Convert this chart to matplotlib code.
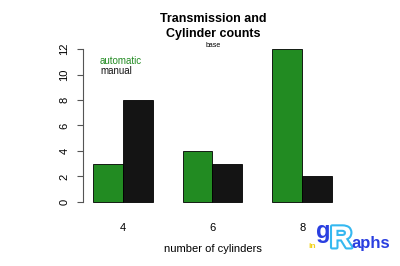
import matplotlib
matplotlib.use("Agg")
import matplotlib.pyplot as plt
import matplotlib.patheffects as pe
import numpy as np

cylinders = ["4", "6", "8"]
automatic = [3, 4, 12]
manual = [8, 3, 2]
series_names = ["automatic", "manual"]
colors = ["#228B22", "#141414"]
yticks = [0, 2, 4, 6, 8, 10, 12]

plt.rcParams['font.family'] = ['Liberation Sans', 'DejaVu Sans']

fig = plt.figure(figsize=(4, 2.66), dpi=100)
ax = fig.add_axes([0.2085, 0.2177, 0.6455, 0.621])

group_left = np.array([1, 4, 7])
ax.bar(group_left + 0.5, automatic, width=1, color=colors[0], edgecolor="black", linewidth=0.6)
ax.bar(group_left + 1.5, manual, width=1, color=colors[1], edgecolor="black", linewidth=0.6)

ax.set_xlim(0.68, 9.32)
ax.set_ylim(-0.48, 12.48)
ax.set_xticks(group_left + 1)
ax.set_xticklabels(cylinders, fontsize=8)
ax.tick_params(axis='x', length=0, pad=11)
ax.set_yticks(yticks)
ax.set_yticklabels([str(v) for v in yticks], fontsize=8, rotation=90, va='center')
ax.tick_params(axis='y', length=4, width=0.8, color='#555555', pad=6)
for s in ['top', 'right', 'bottom']:
    ax.spines[s].set_visible(False)
ax.spines['left'].set_bounds(0, 12)
ax.spines['left'].set_color('#555555')
ax.spines['left'].set_linewidth(0.8)

ax.set_xlabel("number of cylinders", fontsize=8, labelpad=8)

fig.text(0.5325, 0.927, "Transmission and", ha='center', va='center', fontsize=9, fontweight='bold')
fig.text(0.5325, 0.872, "Cylinder counts", ha='center', va='center', fontsize=9, fontweight='bold')
fig.text(0.5325, 0.828, "base", ha='center', va='center', fontsize=5)

fig.text(0.25, 0.771, series_names[0], color=colors[0], fontsize=7, va='center')
fig.text(0.25, 0.733, series_names[1], color=colors[1], fontsize=7, va='center')

# logo approximation
fig.text(0.772, 0.075, "in", color="#f2d21a", fontsize=6, fontweight='bold', va='center')
fig.text(0.79, 0.13, "g", color="#2a3fe0", fontsize=17, fontweight='bold', va='center')
fig.text(0.825, 0.1, "R", color="#ffffff", fontsize=22, fontweight='bold', va='center',
         path_effects=[pe.withStroke(linewidth=3, foreground="#35b8f0")])
fig.text(0.88, 0.085, "aphs", color="#2a3fe0", fontsize=12, fontweight='bold', va='center')

fig.savefig("out.png", dpi=100)
